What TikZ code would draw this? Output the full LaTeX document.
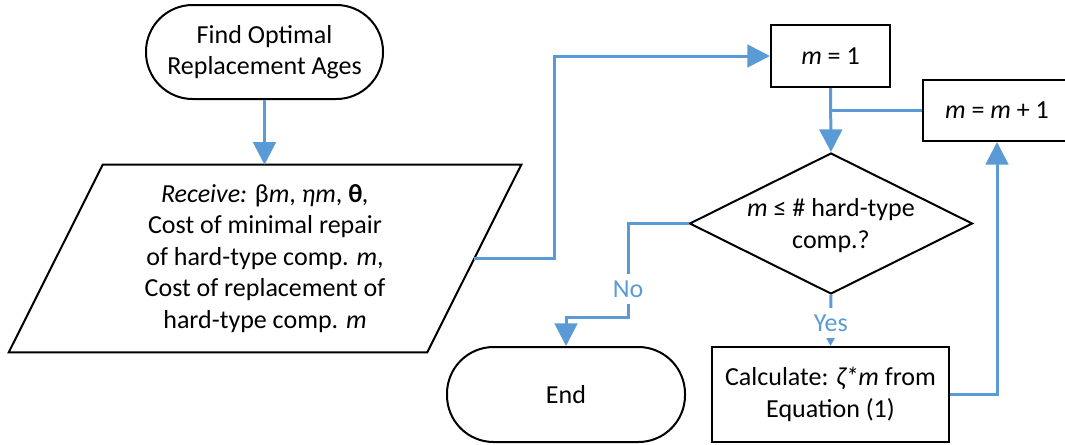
\documentclass[tikz,border=0pt]{standalone}
\usepackage{fontspec}
\setmainfont{Carlito}
\usetikzlibrary{arrows.meta,shapes.geometric,calc}
\definecolor{flowblue}{HTML}{5B9BD5}
\begin{document}
\begin{tikzpicture}[x=0.75pt,y=-0.75pt,
  every node/.style={font=\fontsize{19.5}{23.6}\selectfont, align=center, inner sep=0pt},
  box/.style={draw=black, line width=1.5pt, rectangle, fill=white},
  terminal/.style={box, rounded corners=35pt},
  decision/.style={draw=black, line width=1.5pt, diamond, fill=white},
  flow/.style={draw=flowblue, line width=2.25pt, -{Triangle[length=17pt,width=17pt]}},
  smallflow/.style={draw=flowblue, line width=2.25pt, -{Triangle[length=7pt,width=7pt]}},
  link/.style={draw=flowblue, line width=2.25pt},
  answer/.style={text=flowblue, fill=white, inner xsep=2pt, inner ysep=5pt},
]
\useasboundingbox (0,0) rectangle (1065,444);

% process shapes
\node[terminal, minimum width=177.75pt, minimum height=70.5pt] (start) at (264.5,52)
  {Find Optimal\\Replacement Ages};
\node[minimum width=384pt, minimum height=140.25pt] (recv) at (265,258.5)
  {\textit{Receive:} β\textit{m}, \textit{ηm}, \textbf{θ}\textit{,}\\
   Cost of minimal repair\\
   of hard-type comp. \textit{m},\\
   Cost of replacement of\\
   hard-type comp. \textit{m}};
\draw[line width=1.5pt] ($(recv.north west)+(94,0)$) -- (recv.north east)
  -- ($(recv.south east)+(-94,0)$) -- (recv.south west) -- cycle;
\coordinate (recvout) at ($(recv.east)+(-47,0)$);

\node[box, minimum width=89.25pt, minimum height=46.5pt] (m1) at (830.5,56) {\textit{m} = 1};
\node[box, minimum width=111pt, minimum height=45.75pt] (inc) at (997,110.5) {\textit{m} = \textit{m} + 1};
\node[decision, minimum width=212.25pt, minimum height=105.75pt] (dec) at (831,223.5) {};
\node at (dec) [yshift=-1.5pt] {\textit{m} ≤ \# hard-type\\comp.?};
\node[terminal, minimum width=178.5pt, minimum height=71.25pt] (endn) at (566,394.5) {End};
\node[box, minimum width=177.75pt, minimum height=71.25pt] (calc) at (830.5,394.5)
  {Calculate: \textit{ζ*m} from\\Equation (1)};

% connectors
\draw[flow] (start.south) -- (start.south |- recv.north);
\draw[flow] (recvout) -- ++(80,0) |- (m1);
\draw[flow] (m1.south) -- (dec.north);
\draw[link] (inc.west) -- (inc.west -| m1.south);
\coordinate (nobend) at (628,317);
\draw[flow] (dec.west) -| node[answer, pos=0.85] {No} (nobend) -| (endn);
\draw[smallflow] (dec.south) -- node[answer, pos=0.55] {Yes} (calc.north);
\draw[flow] (calc.east) -| (inc.south);
\end{tikzpicture}
\end{document}
